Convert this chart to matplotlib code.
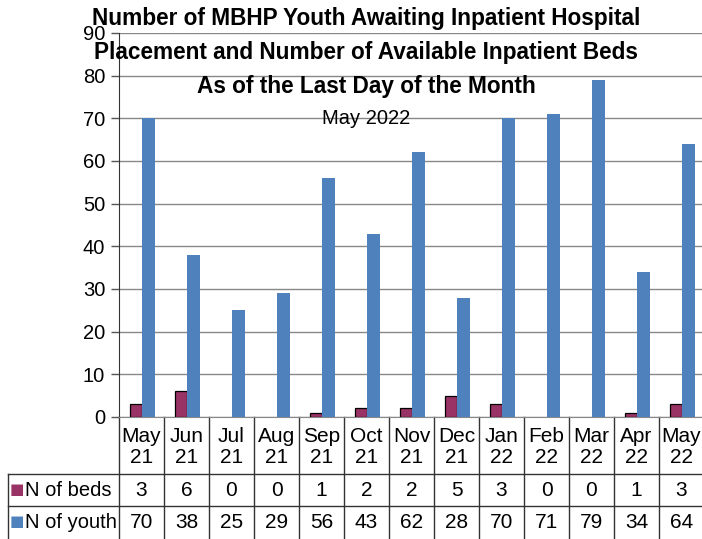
import matplotlib
matplotlib.use("Agg")
import matplotlib.pyplot as plt
import matplotlib.transforms as mtransforms
import numpy as np

plt.rcParams["font.family"] = ["Liberation Sans", "DejaVu Sans"]

months = ["May\n21", "Jun\n21", "Jul\n21", "Aug\n21", "Sep\n21", "Oct\n21", "Nov\n21",
          "Dec\n21", "Jan\n22", "Feb\n22", "Mar\n22", "Apr\n22", "May\n22"]
n_beds = [3, 6, 0, 0, 1, 2, 2, 5, 3, 0, 0, 1, 3]
n_youth = [70, 38, 25, 29, 56, 43, 62, 28, 70, 71, 79, 34, 64]
row_labels = ["N of beds", "N of youth"]

W, H = 702, 539
fig = plt.figure(figsize=(W / 100, H / 100), dpi=100)

# plot area in pixels (left, top, right, bottom)
L, T, R, B = 119, 33, 704, 417
ax = fig.add_axes([L / W, 1 - B / H, (R - L) / W, (B - T) / H])

beds_color = "#993366"
youth_color = "#4F81BD"
x = np.arange(len(months))
bw = 0.28
beds = ax.bar(x - bw / 2 + 0.02, n_beds, bw, color=beds_color, edgecolor="black", linewidth=0.9, zorder=3)
for p, v in zip(beds.patches, n_beds):
    if v == 0:
        p.set_visible(False)
ax.bar(x + bw / 2 + 0.02, n_youth, bw, color=youth_color, zorder=3)

ax.set_xlim(-0.5, len(months) - 0.5)
ax.set_ylim(0, 90)
ax.set_yticks(range(0, 91, 10))
ax.set_xticks([])
ax.tick_params(axis="y", labelsize=14.5, length=6, width=1, color="#555555", pad=4)
ax.yaxis.grid(True, color="#888888", linewidth=1)
ax.set_axisbelow(True)
for s in ["top", "right"]:
    ax.spines[s].set_visible(False)
ax.spines["left"].set_color("#333333")
ax.spines["bottom"].set_color("#888888")

# data table below the axis
trans = mtransforms.blended_transform_factory(ax.transData, fig.transFigure)
def fy(py):
    return 1 - py / H

lc = "#333333"
for i in range(len(months) + 1):
    xe = i - 0.5
    ax.plot([xe, xe], [fy(417), fy(539)], transform=trans, color=lc, lw=1, clip_on=False)
fig.add_artist(plt.Line2D([8 / W, 8 / W], [fy(474), fy(539)], transform=fig.transFigure, color=lc, lw=1))
for py in [474, 506]:
    fig.add_artist(plt.Line2D([8 / W, 1], [fy(py), fy(py)], transform=fig.transFigure, color=lc, lw=1))

for i, m in enumerate(months):
    ax.text(i, fy(447), m, transform=trans, ha="center", va="center", fontsize=15, linespacing=1.15)
    ax.text(i, fy(490), str(n_beds[i]), transform=trans, ha="center", va="center", fontsize=15)
    ax.text(i, fy(522), str(n_youth[i]), transform=trans, ha="center", va="center", fontsize=15)

for lab, col, py in zip(row_labels, [beds_color, youth_color], [490, 522]):
    fig.text(17 / W, fy(py), "\u25a0", color=col, ha="center", va="center", fontsize=11,
             family="DejaVu Sans")
    fig.text(25 / W, fy(py), lab, ha="left", va="center", fontsize=14.5)

title_lines = ["Number of MBHP Youth Awaiting Inpatient Hospital",
               "Placement and Number of Available Inpatient Beds",
               "As of the Last Day of the Month"]
for line, py in zip(title_lines, [18, 52, 86]):
    fig.text(366 / W, fy(py), line, ha="center", va="center", fontsize=16.3, fontweight="bold")
fig.text(366 / W, fy(118), "May 2022", ha="center", va="center", fontsize=14.5)

fig.savefig("out.png", dpi=100)
